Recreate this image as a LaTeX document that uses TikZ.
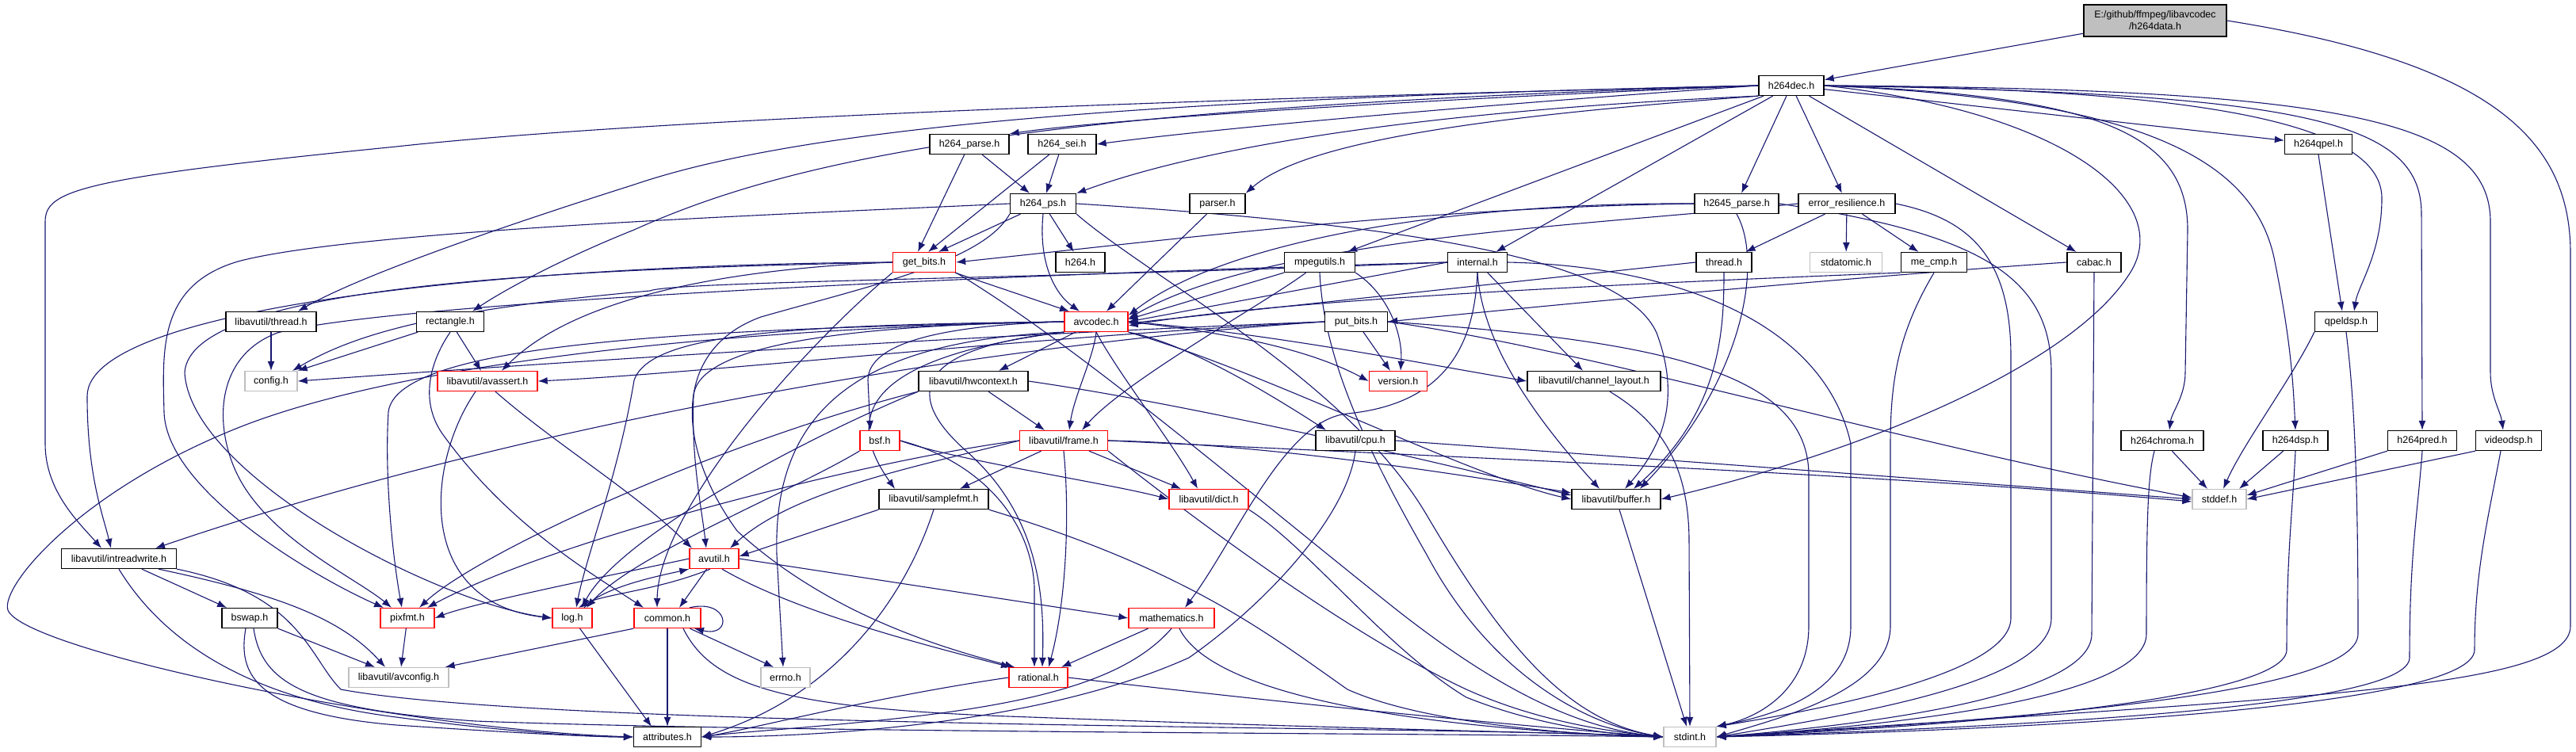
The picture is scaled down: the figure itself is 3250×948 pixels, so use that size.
\documentclass[tikz,border=0pt]{standalone}
\usepackage{fontspec}
\setmainfont{Liberation Sans}
\usetikzlibrary{arrows.meta}
\definecolor{edgec}{RGB}{25,25,112}
\definecolor{grayb}{RGB}{191,191,191}
\definecolor{redb}{RGB}{255,0,0}
\pgfdeclarelayer{bgl}
\pgfdeclarelayer{edl}
\pgfsetlayers{bgl,edl,main}
\tikzset{
  nb/.style={draw=black, line width=1.3pt, fill=white, minimum height=25pt, inner sep=0pt, font=\fontsize{12.5}{13}\selectfont},
  nr/.style={nb, draw=redb},
  ng/.style={nb, draw=grayb},
  edg/.style={draw=edgec, line width=1.1pt, -{Latex[length=12pt,width=9pt]}},
}
\begin{document}
\begin{tikzpicture}[x=1pt,y=-1pt]
\begin{pgfonlayer}{bgl}
\fill[white] (0,0) rectangle (3250,948);
\end{pgfonlayer}
\useasboundingbox (0,0) rectangle (3250,948);
% ---------------- nodes ----------------
\node[nb, fill=grayb, minimum width=180, minimum height=40, align=center, font=\fontsize{12.5}{15}\selectfont] (h264data) at (2719,26) {E:/github/ffmpeg/libavcodec\\/h264data.h};
\node[nb, minimum width=82] (h264dec) at (2260,108) {h264dec.h};
\node[nb, minimum width=100] (h264parse) at (1223,182) {h264\_parse.h};
\node[nb, minimum width=86] (h264sei) at (1340,182) {h264\_sei.h};
\node[nb, minimum width=83] (h264ps) at (1316,257) {h264\_ps.h};
\node[nb, minimum width=70] (parser) at (1536,257) {parser.h};
\node[nb, minimum width=106] (h2645) at (2191,257) {h2645\_parse.h};
\node[nb, minimum width=122] (errres) at (2330,257) {error\_resilience.h};
\node[nb, minimum width=85] (h264qpel) at (2925,182) {h264qpel.h};
\node[nb, minimum width=114] (lthread) at (342,406) {libavutil/thread.h};
\node[nb, minimum width=85] (rectangle) at (568,406) {rectangle.h};
\node[nr, minimum width=79] (getbits) at (1166,331) {get\_bits.h};
\node[nb, minimum width=62] (h264h) at (1363,331) {h264.h};
\node[nb, minimum width=89] (mpegutils) at (1665,331) {mpegutils.h};
\node[nb, minimum width=75] (internal) at (1864,331) {internal.h};
\node[nb, minimum width=70] (thread) at (2175,331) {thread.h};
\node[ng, minimum width=91] (stdatomic) at (2329,331) {stdatomic.h};
\node[nb, minimum width=83] (mecmp) at (2440,331) {me\_cmp.h};
\node[nb, minimum width=68] (cabac) at (2642,331) {cabac.h};
\node[nr, minimum width=80] (avcodec) at (1383,406) {avcodec.h};
\node[nb, minimum width=79] (putbits) at (1711,406) {put\_bits.h};
\node[nb, minimum width=79] (qpeldsp) at (2960,406) {qpeldsp.h};
\node[ng, minimum width=66] (config) at (342,481) {config.h};
\node[nr, minimum width=126] (avassert) at (615,481) {libavutil/avassert.h};
\node[nb, minimum width=138] (hwcontext) at (1228,481) {libavutil/hwcontext.h};
\node[nr, minimum width=73] (version) at (1764,481) {version.h};
\node[nb, minimum width=168] (chlayout) at (2011,481) {libavutil/channel\_layout.h};
\node[nr, minimum width=50] (bsf) at (1110,556) {bsf.h};
\node[nr, minimum width=111] (frame) at (1342,556) {libavutil/frame.h};
\node[nb, minimum width=100] (cpu) at (1710,556) {libavutil/cpu.h};
\node[nb, minimum width=104] (h264chroma) at (2728,556) {h264chroma.h};
\node[nb, minimum width=82] (h264dsp) at (2896,556) {h264dsp.h};
\node[nb, minimum width=87] (h264pred) at (3056,556) {h264pred.h};
\node[nb, minimum width=83] (videodsp) at (3165,556) {videodsp.h};
\node[nb, minimum width=138] (samplefmt) at (1178,630) {libavutil/samplefmt.h};
\node[nr, minimum width=100] (dict) at (1525,630) {libavutil/dict.h};
\node[nb, minimum width=112] (buffer) at (2039,630) {libavutil/buffer.h};
\node[ng, minimum width=68] (stddef) at (2800,630) {stddef.h};
\node[nb, minimum width=145] (intrw) at (150,705) {libavutil/intreadwrite.h};
\node[nr, minimum width=62] (avutil) at (901,705) {avutil.h};
\node[nb, minimum width=70] (bswap) at (315,780) {bswap.h};
\node[nr, minimum width=68] (pixfmt) at (514,780) {pixfmt.h};
\node[nr, minimum width=50] (log) at (722,780) {log.h};
\node[nr, minimum width=84] (common) at (842,780) {common.h};
\node[nr, minimum width=108] (mathematics) at (1478,780) {mathematics.h};
\node[ng, minimum width=126] (avconfig) at (503,855) {libavutil/avconfig.h};
\node[ng, minimum width=62] (errno) at (991,855) {errno.h};
\node[nr, minimum width=74] (rational) at (1310,855) {rational.h};
\node[nb, minimum width=85] (attributes) at (842,930) {attributes.h};
\node[ng, minimum width=66] (stdint) at (2132,930) {stdint.h};
% ---------------- edges ----------------
\begin{pgfonlayer}{edl}
% h264data.h
\draw[edg] (h264data) -- (h264dec);
\draw[edg] (h264data.east) .. controls (3150,80) and (3243,180) .. (3243,320) -- (3243,790) .. controls (3243,870) and (2900,880) .. (stdint.east);
% h264dec.h
\draw[edg] (h264dec.west) .. controls (1500,125) and (820,150) .. (500,185) .. controls (100,225) and (57,240) .. (57,280) -- (57,560) .. controls (57,620) and (100,660) .. ([xshift=-22]intrw.north);
\draw[edg] (h264dec.west) .. controls (1400,125) and (1000,165) .. (800,233) .. controls (620,290) and (450,350) .. ([xshift=34]lthread.north);
\draw[edg] (h264dec.west) .. controls (1300,135) and (1000,200) .. (800,290) .. controls (700,330) and (630,370) .. ([xshift=28]rectangle.north);
\draw[edg] (h264dec.west) .. controls (1800,125) and (1400,150) .. (h264parse.north east);
\draw[edg] (h264dec.west) .. controls (1900,130) and (1550,160) .. (h264sei.east);
\draw[edg] (h264dec.south west) .. controls (1900,135) and (1560,170) .. (h264ps.north east);
\draw[edg] (h264dec.south west) .. controls (1900,145) and (1650,175) .. (parser.north east);
\draw[edg] (h264dec) -- (mpegutils);
\draw[edg] (h264dec) -- (internal);
\draw[edg] (h264dec) -- (h2645);
\draw[edg] (h264dec) -- (errres);
\draw[edg] (h264dec) -- (cabac);
\draw[edg] (h264dec) -- (h264qpel);
\draw[edg] (h264dec.east) .. controls (2800,112) and (3005,160) .. (3005,250) .. controls (3005,320) and (2975,360) .. ([xshift=10]qpeldsp.north);
\draw[edg] (h264dec.east) .. controls (2900,118) and (3055,150) .. (3055,270) -- (h264pred.north);
\draw[edg] (h264dec.east) .. controls (2950,112) and (3142,150) .. (3142,280) -- (3142,470) .. controls (3142,500) and (3155,520) .. ([xshift=-7]videodsp.north);
\draw[edg] (h264dec.east) .. controls (2700,125) and (2845,200) .. (2870,330) .. controls (2890,430) and (2893,480) .. (h264dsp.north);
\draw[edg] (h264dec.east) .. controls (2650,120) and (2760,170) .. (2760,290) -- (2757,470) .. controls (2757,500) and (2740,520) .. ([xshift=9]h264chroma.north);
\draw[edg] (h264dec.east) .. controls (2600,140) and (2740,250) .. (2690,340) .. controls (2620,460) and (2350,570) .. (buffer.east);
% h264_parse / h264_sei / h264_ps
\draw[edg] (h264parse) -- ([xshift=-8]getbits.north);
\draw[edg] (h264parse) -- ([xshift=-17]h264ps.north);
\draw[edg] (h264sei) -- ([xshift=5]getbits.north);
\draw[edg] (h264sei) -- ([xshift=4]h264ps.north);
\draw[edg] (h264ps) -- ([xshift=18]getbits.north);
\draw[edg] (h264ps) -- (h264h);
\draw[edg] (h264ps.south) .. controls (1310,330) and (1330,370) .. ([xshift=-21]avcodec.north);
\draw[edg] (h264ps.west) .. controls (1000,270) and (450,290) .. (300,330) .. controls (200,360) and (205,440) .. (207,520) .. controls (210,620) and (400,730) .. ([xshift=-30]pixfmt.north);
\draw[edg] (h264ps.south west) .. controls (1240,330) and (1100,360) .. (960,400) .. controls (850,440) and (850,560) .. (930,670) .. controls (1050,780) and (1200,820) .. ([xshift=-30]rational.north);
\draw[edg] (h264ps.east) .. controls (1800,285) and (2050,330) .. (2090,420) .. controls (2120,500) and (2100,560) .. ([xshift=11]buffer.north);
\draw[edg] (h264ps.south east) .. controls (1450,350) and (1700,480) .. (1800,650) .. controls (1900,820) and (1980,910) .. (stdint.west);
% parser
\draw[edg] (parser) -- ([xshift=13]avcodec.north);
% h2645_parse
\draw[edg] (h2645.west) .. controls (1800,262) and (1500,300) .. (getbits.east);
\draw[edg] (h2645.west) .. controls (1850,255) and (1550,300) .. ([yshift=8]avcodec.east);
\draw[edg] (h2645.south) .. controls (2225,330) and (2200,480) .. ([xshift=30]buffer.north);
\draw[edg] (h2645.east) .. controls (2500,295) and (2588,350) .. (2588,470) -- (2588,780) .. controls (2588,860) and (2350,900) .. (stdint.east);
% error_resilience
\draw[edg] (errres) -- (thread);
\draw[edg] (errres) -- (stdatomic);
\draw[edg] (errres) -- (mecmp);
\draw[edg] (errres.west) .. controls (2000,285) and (1600,300) .. ([yshift=4]avcodec.east);
\draw[edg] (errres.east) .. controls (2480,275) and (2537,320) .. (2537,450) -- (2537,780) .. controls (2537,850) and (2300,895) .. (stdint.north east);
% h264qpel
\draw[edg] (h264qpel.south) -- ([xshift=-5]qpeldsp.north);
% libavutil/thread.h
\draw[edg] (lthread) -- (config);
% rectangle
\draw[edg] (rectangle) -- (config.north east);
\draw[edg] (rectangle) -- ([xshift=-8]avassert.north);
\draw[edg] (rectangle.south) .. controls (540,460) and (530,510) .. (560,550) .. controls (640,660) and (740,720) .. ([xshift=-30]common.north);
% get_bits
\draw[edg] (getbits) -- ([xshift=-34]avcodec.north);
\draw[edg] (getbits.south east) .. controls (1350,430) and (1550,600) .. (1750,760) .. controls (1900,880) and (2000,920) .. (stdint.west);
\draw[edg] (getbits.west) .. controls (700,333) and (110,380) .. (110,500) .. controls (110,600) and (130,650) .. ([xshift=-10]intrw.north);
\draw[edg] (getbits.west) .. controls (700,340) and (240,360) .. (233,470) .. controls (240,600) and (550,760) .. (log.west);
\draw[edg] (getbits.west) .. controls (900,340) and (720,380) .. ([xshift=18]avassert.north);
\draw[edg] (getbits.south west) .. controls (1000,450) and (830,650) .. ([xshift=-13]common.north);
% mpegutils
\draw[edg] (mpegutils.south west) -- ([yshift=3]avcodec.east);
\draw[edg] (mpegutils) .. controls (1600,380) and (1420,480) .. ([xshift=23]frame.north);
\draw[edg] (mpegutils.south east) .. controls (1750,370) and (1770,420) .. ([xshift=3]version.north);
\draw[edg] (mpegutils.south) .. controls (1670,450) and (1720,560) .. (1800,700) .. controls (1880,850) and (2000,915) .. (stdint.west);
% internal
\draw[edg] (internal.west) -- ([yshift=0]avcodec.east);
\draw[edg] (internal.west) .. controls (1300,345) and (500,380) .. (350,420) .. controls (270,450) and (270,540) .. (300,600) .. controls (340,680) and (450,730) .. ([xshift=-20]pixfmt.north);
\draw[edg] (internal.west) .. controls (1300,352) and (850,355) .. (820,367) .. controls (560,390) and (450,420) .. ([xshift=27]config.north);
\draw[edg] (internal) -- ([xshift=-14]chlayout.north);
\draw[edg] (internal.south) .. controls (1870,430) and (1930,520) .. ([xshift=-21]buffer.north);
\draw[edg] (internal.south) .. controls (1860,440) and (1820,510) .. (1700,522) .. controls (1620,530) and (1560,680) .. ([xshift=17]mathematics.north);
\draw[edg] (internal.east) .. controls (2100,335) and (2300,400) .. (2335,560) -- (2335,790) .. controls (2335,870) and (2250,900) .. (stdint.north east);
% thread
\draw[edg] (thread.west) -- ([yshift=-2]avcodec.east);
\draw[edg] (thread.south) .. controls (2175,420) and (2170,520) .. ([xshift=22]buffer.north);
% me_cmp
\draw[edg] (mecmp.south west) .. controls (2000,360) and (1600,380) .. ([yshift=-5]avcodec.east);
\draw[edg] (mecmp.south) .. controls (2395,420) and (2385,480) .. (2385,560) -- (2385,790) .. controls (2385,870) and (2250,905) .. (stdint.east);
% cabac
\draw[edg] (cabac.west) .. controls (2400,345) and (2000,380) .. (putbits.east);
\draw[edg] (cabac.south) -- (2639,800) .. controls (2639,880) and (2350,915) .. (stdint.east);
% avcodec
\draw[edg] (avcodec.south west) .. controls (1080,430) and (975,520) .. (980,700) -- ([xshift=-3]errno.north);
\draw[edg] (avcodec.south west) .. controls (1100,450) and (1060,520) .. ([xshift=-49]samplefmt.north);
\draw[edg] (avcodec.west) .. controls (900,415) and (500,460) .. (300,540) .. controls (100,620) and (0,740) .. (10,770) .. controls (30,820) and (500,920) .. (attributes.west);
\draw[edg] (avcodec.west) .. controls (1100,410) and (880,430) .. (875,500) .. controls (872,580) and (885,640) .. ([xshift=-10]avutil.north);
\draw[edg] (avcodec.south east) .. controls (1600,470) and (1850,600) .. (buffer.west);
\draw[edg] (avcodec.south east) .. controls (1480,430) and (1560,470) .. ([xshift=-37]cpu.north);
\draw[edg] (avcodec.east) .. controls (1600,420) and (1800,460) .. (chlayout.west);
\draw[edg] (avcodec.south) .. controls (1410,470) and (1480,560) .. ([xshift=-14]dict.north);
\draw[edg] (avcodec.south) .. controls (1380,450) and (1355,500) .. ([xshift=7]frame.north);
\draw[edg] (avcodec) -- ([xshift=32]hwcontext.north);
\draw[edg] (avcodec.west) .. controls (1000,410) and (820,420) .. (800,480) .. controls (780,600) and (740,700) .. ([xshift=5]log.north);
\draw[edg] (avcodec.west) .. controls (900,415) and (500,430) .. (490,520) .. controls (485,600) and (495,700) .. ([xshift=-7]pixfmt.north);
\draw[edg] (avcodec.south west) .. controls (1150,440) and (1140,500) .. (1220,570) .. controls (1310,650) and (1318,750) .. ([xshift=5]rational.north);
\draw[edg] (avcodec.west) .. controls (1200,410) and (1095,430) .. (1095,480) -- ([xshift=-12]bsf.north);
\draw[edg] (avcodec.east) .. controls (1550,420) and (1650,440) .. (version.west);
% put_bits
\draw[edg] (putbits) -- ([xshift=-10]version.north);
\draw[edg] (putbits.east) .. controls (2100,430) and (2282,470) .. (2282,600) -- (2282,790) .. controls (2282,870) and (2220,905) .. (stdint.north east);
\draw[edg] (putbits.east) .. controls (2000,440) and (2400,560) .. ([yshift=2]stddef.west);
\draw[edg] (putbits.west) .. controls (1300,430) and (700,520) .. ([xshift=46]intrw.north);
\draw[edg] (putbits.west) .. controls (1300,425) and (900,470) .. (avassert.east);
\draw[edg] (putbits.west) .. controls (1300,420) and (800,450) .. (config.east);
% qpeldsp
\draw[edg] (qpeldsp.south west) .. controls (2890,480) and (2830,560) .. ([xshift=5]stddef.north);
\draw[edg] (qpeldsp.south) .. controls (2970,500) and (2975,600) .. (2975,800) .. controls (2975,880) and (2500,910) .. (stdint.east);
% avassert
\draw[edg] ([xshift=-15]avassert.south) .. controls (540,580) and (520,760) .. (log.west);
\draw[edg] ([xshift=10]avassert.south) .. controls (700,560) and (800,620) .. ([xshift=-28]avutil.north);
% hwcontext
\draw[edg] (hwcontext) -- ([xshift=-24]frame.north);
\draw[edg] (hwcontext.east) .. controls (1500,510) and (1800,580) .. ([yshift=5]buffer.west);
\draw[edg] (hwcontext.south west) .. controls (1000,560) and (780,680) .. ([xshift=12]log.north);
\draw[edg] (hwcontext.south west) .. controls (900,560) and (600,700) .. ([xshift=15]pixfmt.north);
% bsf
\draw[edg] (bsf.east) .. controls (1200,580) and (1400,610) .. (dict.west);
\draw[edg] (bsf.east) .. controls (1230,580) and (1300,650) .. (1305,740) -- ([xshift=-5]rational.north);
\draw[edg] (bsf.south west) .. controls (1000,620) and (800,700) .. ([xshift=18]log.north);
% frame
\draw[edg] (frame) -- ([xshift=33]samplefmt.north);
\draw[edg] (frame) -- ([xshift=-35]dict.north);
\draw[edg] (frame.south) .. controls (1350,650) and (1345,760) .. ([xshift=13]rational.north);
\draw[edg] (frame.west) .. controls (1150,590) and (1000,620) .. ([xshift=20]avutil.north);
\draw[edg] (frame.west) .. controls (1100,580) and (700,680) .. ([xshift=25]pixfmt.north);
\draw[edg] (frame.east) .. controls (1600,560) and (1850,600) .. ([yshift=8]buffer.west);
\draw[edg] (frame.east) .. controls (1800,575) and (2400,600) .. ([yshift=-3]stddef.west);
\draw[edg] (frame.south east) .. controls (1500,650) and (1700,800) .. (1850,870) .. controls (1950,915) and (2050,925) .. (stdint.west);
% cpu
\draw[edg] (cpu.south) .. controls (1700,650) and (1600,760) .. (1500,830) .. controls (1300,920) and (1000,930) .. (attributes.east);
\draw[edg] (cpu.east) .. controls (2100,580) and (2500,610) .. (stddef.west);
% channel_layout
\draw[edg] ([xshift=20]chlayout.south) .. controls (2090,530) and (2130,580) .. (2131,680) -- (stdint.north);
% h264chroma, h264dsp, h264pred, videodsp
\draw[edg] (h264chroma) -- ([xshift=-15]stddef.north);
\draw[edg] ([xshift=-10]h264chroma.south) .. controls (2710,600) and (2708,650) .. (2708,800) .. controls (2708,880) and (2400,915) .. (stdint.east);
\draw[edg] (h264dsp) -- ([xshift=25]stddef.north);
\draw[edg] (h264dsp.south) .. controls (2892,650) and (2885,700) .. (2885,820) .. controls (2885,880) and (2500,915) .. (stdint.east);
\draw[edg] (h264pred.south west) -- ([yshift=5]stddef.east);
\draw[edg] (h264pred.south) .. controls (3050,650) and (3040,700) .. (3040,830) .. controls (3040,890) and (2600,915) .. (stdint.east);
\draw[edg] (videodsp.south west) -- (stddef.east);
\draw[edg] ([xshift=-10]videodsp.south) .. controls (3140,650) and (3122,720) .. (3122,820) .. controls (3122,890) and (2600,920) .. (stdint.east);
% samplefmt
\draw[edg] (samplefmt.south west) -- ([yshift=3]avutil.east);
\draw[edg] (samplefmt.south) .. controls (1140,760) and (1050,880) .. (attributes.east);
\draw[edg] (samplefmt.south east) .. controls (1500,720) and (1600,800) .. (1700,870) .. controls (1800,915) and (2000,928) .. (stdint.west);
% dict, buffer
\draw[edg] (dict.south east) .. controls (1650,690) and (1750,820) .. (1850,880) .. controls (1950,920) and (2050,928) .. (stdint.west);
\draw[edg] (buffer) -- (stdint);
% intreadwrite
\draw[edg] (intrw) -- (bswap);
\draw[edg] ([xshift=50]intrw.south) .. controls (350,750) and (430,780) .. ([xshift=-17]avconfig.north);
\draw[edg] (intrw.south east) .. controls (380,750) and (390,830) .. (430,870) .. controls (700,920) and (1800,915) .. (stdint.west);
\draw[edg] (intrw.south) .. controls (200,800) and (300,880) .. (500,905) .. controls (650,925) and (750,930) .. (attributes.west);
% bswap
\draw[edg] (bswap.south east) -- ([xshift=-30]avconfig.north);
\draw[edg] ([xshift=-5]bswap.south) .. controls (300,850) and (320,900) .. (500,915) .. controls (650,925) and (750,930) .. (attributes.west);
\draw[edg] ([xshift=5]bswap.south) .. controls (330,860) and (380,895) .. (600,910) .. controls (1000,925) and (1800,925) .. (stdint.west);
% pixfmt
\draw[edg] (pixfmt) -- ([xshift=3]avconfig.north);
% log
\draw[edg] ([xshift=15]log.north) .. controls (760,740) and (840,725) .. (avutil.south west);
\draw[edg] (log) -- ([xshift=-20]attributes.north);
% avutil
\draw[edg] (avutil) -- ([xshift=15]common.north);
\draw[edg] ([xshift=-5]avutil.south) .. controls (830,745) and (760,750) .. ([xshift=8]log.north);
\draw[edg] (avutil.west) .. controls (800,720) and (600,760) .. (pixfmt.east);
\draw[edg] ([xshift=10]avutil.south) .. controls (1000,770) and (1150,810) .. ([xshift=-35]rational.north);
\draw[edg] (avutil.east) -- (mathematics.west);
% common
\draw[edg] (common) -- ([xshift=-15]errno.north);
\draw[edg] (common) -- (attributes);
\draw[edg] (common.south west) -- ([xshift=-5]avconfig.north east);
\draw[edg] ([xshift=20]common.south) .. controls (900,870) and (1000,895) .. (1300,905) .. controls (1700,920) and (2000,925) .. (stdint.west);
\draw[edg] ([xshift=28]common.north) .. controls (920,755) and (925,805) .. ([xshift=34]common.south);
% mathematics
\draw[edg] (mathematics) -- ([xshift=29]rational.north);
\draw[edg] (mathematics.south) .. controls (1420,860) and (1300,890) .. (1100,910) .. controls (1000,920) and (920,925) .. (attributes.east);
\draw[edg] ([xshift=10]mathematics.south) .. controls (1530,880) and (1800,920) .. (stdint.west);
% rational
\draw[edg] (rational.west) .. controls (1100,880) and (950,920) .. (attributes.east);
\draw[edg] (rational.east) .. controls (1600,885) and (1900,915) .. (stdint.west);
\end{pgfonlayer}
\end{tikzpicture}
\end{document}
